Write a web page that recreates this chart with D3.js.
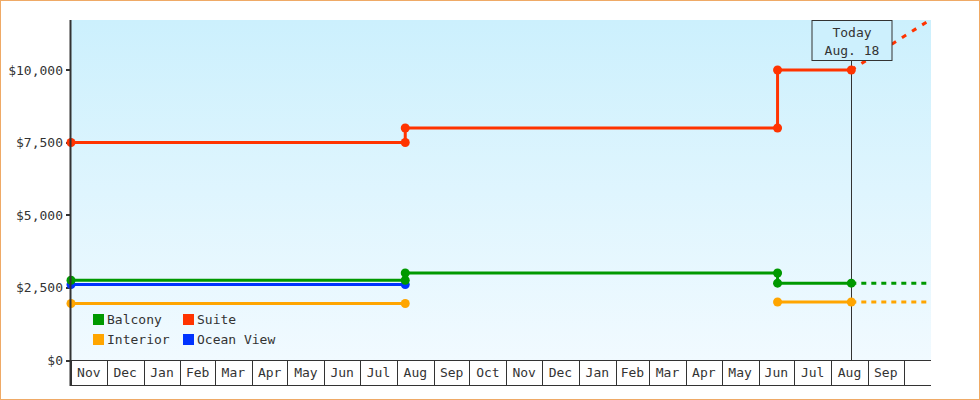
<!DOCTYPE html>
<html>
<head>
<meta charset="utf-8">
<script src="https://cdn.jsdelivr.net/npm/d3@7"></script>
<style>
	body { margin: 0; background: #fff; }
	svg text { font-family: "DejaVu Sans Mono", "Liberation Mono", monospace; font-size: 13px; fill: #333; }
</style>
</head>
<body>
<div id="chart"></div>
<script>
// domínio do eixo x (início, fim) e data de hoje
var dateRange = ["2011-11-01", "2013-10-24"];
var todayDate = "2013-08-18";
var todayLabel = ["Today", "Aug. 18"];

// eixo y
var yMax = 11724;
var yTicks = [0, 2500, 5000, 7500, 10000];

// séries (data, preço); null = sem preço
var seriesNames = ["Balcony", "Suite", "Interior", "Ocean View"];
var seriesColors = ["#009900", "#ff3300", "#ffa500", "#0033ff"];

var balcony = [["2011-11-01", 2750], ["2012-08-08", 2750], ["2012-08-08", 3000], ["2013-06-17", 3000], ["2013-06-17", 2650], ["2013-08-18", 2650]];
var suite = [["2011-11-01", 7500], ["2012-08-08", 7500], ["2012-08-08", 8000], ["2013-06-17", 8000], ["2013-06-17", 10000], ["2013-08-18", 10000]];
var interior = [["2011-11-01", 1950], ["2012-08-08", 1950], ["2013-01-01", null], ["2013-06-17", 2000], ["2013-08-18", 2000]];
var oceanView = [["2011-11-01", 2600], ["2012-08-08", 2600]];

// projeções (tracejadas)
var balconyForecast = [["2013-08-18", 2650], ["2013-10-24", 2650]];
var suiteForecast = [["2013-08-18", 10000], ["2013-10-24", 11750]];
var interiorForecast = [["2013-08-18", 2000], ["2013-10-24", 2000]];

var seriesData = [balcony, suite, interior, oceanView];
var forecastData = [balconyForecast, suiteForecast, interiorForecast, []];

var parseDate = d3.utcParse("%Y-%m-%d");
var fmtMonth = d3.utcFormat("%b");

var width = 980, height = 400;
var margin = {top: 20, right: 49, bottom: 40, left: 71};
var plotW = width - margin.left - margin.right;
var plotH = height - margin.top - margin.bottom;
var axisBand = 25;

var svg = d3.select("#chart").append("svg")
	.attr("width", width)
	.attr("height", height);

// borda externa
svg.append("rect")
	.attr("x", 0.5).attr("y", 0.5)
	.attr("width", width - 1).attr("height", height - 1)
	.attr("fill", "#fff")
	.attr("stroke", "#efaa66");

var defs = svg.append("defs");
var grad = defs.append("linearGradient")
	.attr("id", "bgGrad")
	.attr("x1", 0).attr("y1", 0).attr("x2", 0).attr("y2", 1);
grad.append("stop").attr("offset", "0%").attr("stop-color", "#ccf0fd");
grad.append("stop").attr("offset", "100%").attr("stop-color", "#f1faff");

defs.append("clipPath").attr("id", "plotClip")
	.append("rect").attr("width", plotW).attr("height", plotH);

var x = d3.scaleUtc()
	.domain(dateRange.map(parseDate))
	.range([0, plotW]);

var y = d3.scaleLinear()
	.domain([0, yMax])
	.range([plotH, 0]);

var g = svg.append("g")
	.attr("transform", "translate(" + margin.left + "," + margin.top + ")");

// fundo
g.append("rect")
	.attr("width", plotW).attr("height", plotH)
	.attr("fill", "url(#bgGrad)");

// eixo y
var yAxis = d3.axisLeft(y)
	.tickValues(yTicks)
	.tickSize(5)
	.tickPadding(3)
	.tickFormat(function(d) { return "$" + d3.format(",")(d); });

var yG = g.append("g").call(yAxis);
yG.select(".domain").remove();
yG.selectAll(".tick line").attr("stroke", "#333").attr("stroke-width", 2).attr("shape-rendering", "crispEdges");
yG.selectAll(".tick text").attr("font-family", null).attr("font-size", null).attr("fill", "#333");

// faixa dos meses
var months = d3.utcMonth.range(x.domain()[0], x.domain()[1]);
var fullMonths = months.filter(function(m) { return d3.utcMonth.offset(m, 1) <= x.domain()[1]; });

var xG = g.append("g").attr("transform", "translate(0," + plotH + ")");
xG.append("rect")
	.attr("width", plotW).attr("height", axisBand)
	.attr("fill", "#fff");
xG.selectAll("line.sep")
	.data(months.concat(fullMonths.length ? [d3.utcMonth.offset(fullMonths[fullMonths.length - 1], 1)] : []))
	.enter().append("line")
	.attr("class", "sep")
	.attr("x1", function(d) { return Math.round(x(d)) + 0.5; })
	.attr("x2", function(d) { return Math.round(x(d)) + 0.5; })
	.attr("y1", 0).attr("y2", axisBand)
	.attr("stroke", "#333");
xG.selectAll("text.month")
	.data(fullMonths)
	.enter().append("text")
	.attr("class", "month")
	.attr("x", function(d) { return (x(d) + x(d3.utcMonth.offset(d, 1))) / 2; })
	.attr("y", 17)
	.attr("text-anchor", "middle")
	.text(function(d) { return fmtMonth(d); });
xG.append("line")
	.attr("x1", 0).attr("x2", plotW)
	.attr("y1", axisBand + 0.5).attr("y2", axisBand + 0.5)
	.attr("stroke", "#333");
xG.append("line")
	.attr("x1", 0).attr("x2", plotW)
	.attr("y1", 0.5).attr("y2", 0.5)
	.attr("stroke", "#333");

// linha vertical de hoje
var tx = Math.round(x(parseDate(todayDate))) + 0.5;
g.append("line")
	.attr("x1", tx).attr("x2", tx)
	.attr("y1", 41).attr("y2", plotH)
	.attr("stroke", "#333");

// linhas das séries
var line = d3.line()
	.defined(function(d) { return d[1] !== null; })
	.x(function(d) { return x(parseDate(d[0])); })
	.y(function(d) { return y(d[1]); });

var plot = g.append("g").attr("clip-path", "url(#plotClip)");

forecastData.forEach(function(data, i) {
	if (!data.length) return;
	plot.append("path")
		.datum(data)
		.attr("d", line)
		.attr("fill", "none")
		.attr("stroke", seriesColors[i])
		.attr("stroke-width", 3)
		.attr("stroke-dasharray", i == 1 ? "5,7" : "5,5");
});

// desenha na ordem: laranja, azul, verde, vermelho
[2, 3, 0, 1].forEach(function(i) {
	var data = seriesData[i];
	g.append("path")
		.datum(data)
		.attr("d", line)
		.attr("fill", "none")
		.attr("stroke", seriesColors[i])
		.attr("stroke-width", 3);
	g.selectAll("circle.s" + i)
		.data(data.filter(function(d) { return d[1] !== null; }))
		.enter().append("circle")
		.attr("class", "s" + i)
		.attr("cx", function(d) { return x(parseDate(d[0])); })
		.attr("cy", function(d) { return y(d[1]); })
		.attr("r", 4.5)
		.attr("fill", seriesColors[i]);
});

// eixo esquerdo
g.append("line")
	.attr("x1", -0.5).attr("x2", -0.5)
	.attr("y1", 0).attr("y2", plotH + axisBand + 1)
	.attr("stroke", "#333").attr("stroke-width", 2);

// caixa "Today"
var boxW = 80, boxH = 41;
var tb = g.append("g").attr("transform", "translate(" + (tx - boxW / 2) + ",0)");
tb.append("rect")
	.attr("x", 0.5).attr("y", 0.5)
	.attr("width", boxW).attr("height", boxH - 1)
	.attr("fill", "#cdf0fd")
	.attr("stroke", "#333");
tb.selectAll("text")
	.data(todayLabel)
	.enter().append("text")
	.attr("x", boxW / 2 + 0.5)
	.attr("y", function(d, i) { return 17 + i * 18; })
	.attr("text-anchor", "middle")
	.text(function(d) { return d; });

// legenda
var legend = g.append("g").attr("transform", "translate(22,294)");
var item = legend.selectAll("g")
	.data(seriesNames)
	.enter().append("g")
	.attr("transform", function(d, i) { return "translate(" + ((i % 2) * 90) + "," + (Math.floor(i / 2) * 20) + ")"; });
item.append("rect")
	.attr("width", 11).attr("height", 11)
	.attr("fill", function(d, i) { return seriesColors[i]; });
item.append("text")
	.attr("x", 14).attr("y", 10)
	.text(function(d) { return d; });
</script>
</body>
</html>
